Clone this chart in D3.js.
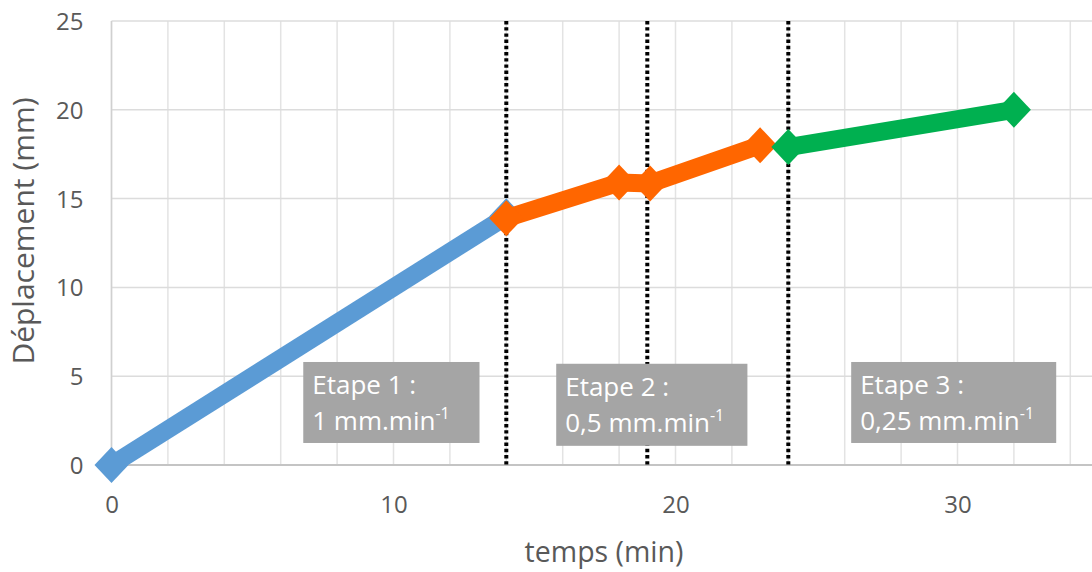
<!DOCTYPE html>
<html>
<head>
<meta charset="utf-8">
<script src="https://cdn.jsdelivr.net/npm/d3@7"></script>
<style>
  html, body { margin: 0; padding: 0; background: #ffffff; }
  svg { display: block; font-family: "Open Sans", sans-serif; }
</style>
</head>
<body>
<svg id="chart" width="1092" height="572"></svg>
<script>
// ---- data ----
const stage1 = [ {t: 0, d: 0}, {t: 14, d: 14} ];
const stage2 = [ {t: 14, d: 13.9}, {t: 18, d: 15.9}, {t: 19.1, d: 15.85}, {t: 23, d: 18} ];
const stage3 = [ {t: 24, d: 17.9}, {t: 32, d: 20} ];
const seriesColors = ["#5b9bd5", "#ff6600", "#00b050"];
const xTicks = [0, 10, 20, 30];
const yTicks = [0, 5, 10, 15, 20, 25];
const xGrid = [0, 2, 4, 6, 8, 10, 12, 14, 16, 18, 20, 22, 24, 26, 28, 30, 32, 34];
const stageLimits = [14, 19, 24];
const boxLines1 = ["Etape 1 :", "1 mm.min", "-1"];
const boxLines2 = ["Etape 2 :", "0,5 mm.min", "-1"];
const boxLines3 = ["Etape 3 :", "0,25 mm.min", "-1"];
// annotation boxes, in data units: [t0, t1, dTop, dBottom]
const boxExtents = [ [6.8, 13.05, 5.8, 1.24], [15.77, 22.55, 5.7, 1.08], [26.23, 33.5, 5.8, 1.24] ];
const xTitle = "temps (min)";
const yTitle = "Déplacement (mm)";

// ---- layout ----
const svg = d3.select("#chart");
const x = d3.scaleLinear().domain([0, 35]).range([111.5, 1098.5]);
const y = d3.scaleLinear().domain([0, 25]).range([465, 21]);

// grid
const grid = svg.append("g");
grid.selectAll(".vg").data(xGrid).join("line")
  .attr("x1", d => x(d)).attr("x2", d => x(d))
  .attr("y1", y(25)).attr("y2", y(0))
  .attr("stroke", "#e3e3e3").attr("stroke-width", 1.5);
grid.selectAll(".hg").data(yTicks).join("line")
  .attr("x1", x(0)).attr("x2", 1092)
  .attr("y1", d => y(d)).attr("y2", d => y(d))
  .attr("stroke", "#dcdcdc").attr("stroke-width", 1.5);

// axes lines
svg.append("line").attr("x1", x(0)).attr("x2", x(0)).attr("y1", y(25)).attr("y2", y(0))
  .attr("stroke", "#d0d0d0").attr("stroke-width", 1.5);
svg.append("line").attr("x1", x(0)).attr("x2", 1092).attr("y1", y(0)).attr("y2", y(0))
  .attr("stroke", "#c4c4c4").attr("stroke-width", 2);

// axes via d3
const xAxis = svg.append("g").attr("transform", `translate(0,${y(0)})`)
  .call(d3.axisBottom(x).tickValues(xTicks).tickSize(0).tickPadding(30));
xAxis.select(".domain").remove();
xAxis.selectAll("text").attr("font-size", 24).attr("fill", "#595959")
  .attr("font-family", "'Open Sans', sans-serif").attr("dy", "0");
xAxis.selectAll("text").attr("y", 48);

const yAxis = svg.append("g").attr("transform", `translate(${x(0)},0)`)
  .call(d3.axisLeft(y).tickValues(yTicks).tickSize(0).tickPadding(28));
yAxis.select(".domain").remove();
yAxis.selectAll("text").attr("font-size", 24).attr("fill", "#595959")
  .attr("font-family", "'Open Sans', sans-serif").attr("dy", "0.35em");

// axis titles
svg.append("text").attr("x", 604).attr("y", 562).attr("text-anchor", "middle")
  .attr("font-size", 28.5).attr("fill", "#595959").text(xTitle);
svg.append("text").attr("transform", `translate(34,${231}) rotate(-90)`)
  .attr("text-anchor", "middle").attr("font-size", 30).attr("fill", "#595959").text(yTitle);

// stage limit dotted lines
svg.selectAll(".lim").data(stageLimits).join("line")
  .attr("x1", d => x(d)).attr("x2", d => x(d))
  .attr("y1", y(25)).attr("y2", y(0) + 2)
  .attr("stroke", "#000").attr("stroke-width", 4).attr("stroke-dasharray", "3.4,2.8");

// annotation boxes
const boxes = [boxLines1, boxLines2, boxLines3];
boxes.forEach((lines, i) => {
  const [t0, t1, dTop, dBot] = boxExtents[i];
  const g = svg.append("g");
  g.append("rect").attr("x", x(t0)).attr("y", y(dTop))
    .attr("width", x(t1) - x(t0)).attr("height", y(dBot) - y(dTop))
    .attr("fill", "#a5a5a5");
  g.append("text").attr("x", x(t0) + 9).attr("y", y(dTop) + 32)
    .attr("font-size", 26).attr("fill", "#ffffff").text(lines[0]);
  const t2 = g.append("text").attr("x", x(t0) + 9).attr("y", y(dTop) + 68)
    .attr("font-size", 26).attr("fill", "#ffffff");
  t2.append("tspan").text(lines[1]);
  t2.append("tspan").attr("font-size", 16).attr("dy", -11).text(lines[2]);
});

// series
const line = d3.line().x(d => x(d.t)).y(d => y(d.d));
const diamond = "M0,-18L17,0L0,18L-17,0Z";
[stage1, stage2, stage3].forEach((data, i) => {
  const g = svg.append("g");
  g.append("path").datum(data).attr("d", line)
    .attr("fill", "none").attr("stroke", seriesColors[i])
    .attr("stroke-width", 18).attr("stroke-linejoin", "round");
  g.selectAll("path.m").data(data).join("path").attr("class", "m")
    .attr("d", diamond)
    .attr("transform", d => `translate(${x(d.t)},${y(d.d)})`)
    .attr("fill", seriesColors[i]);
});
</script>
</body>
</html>
